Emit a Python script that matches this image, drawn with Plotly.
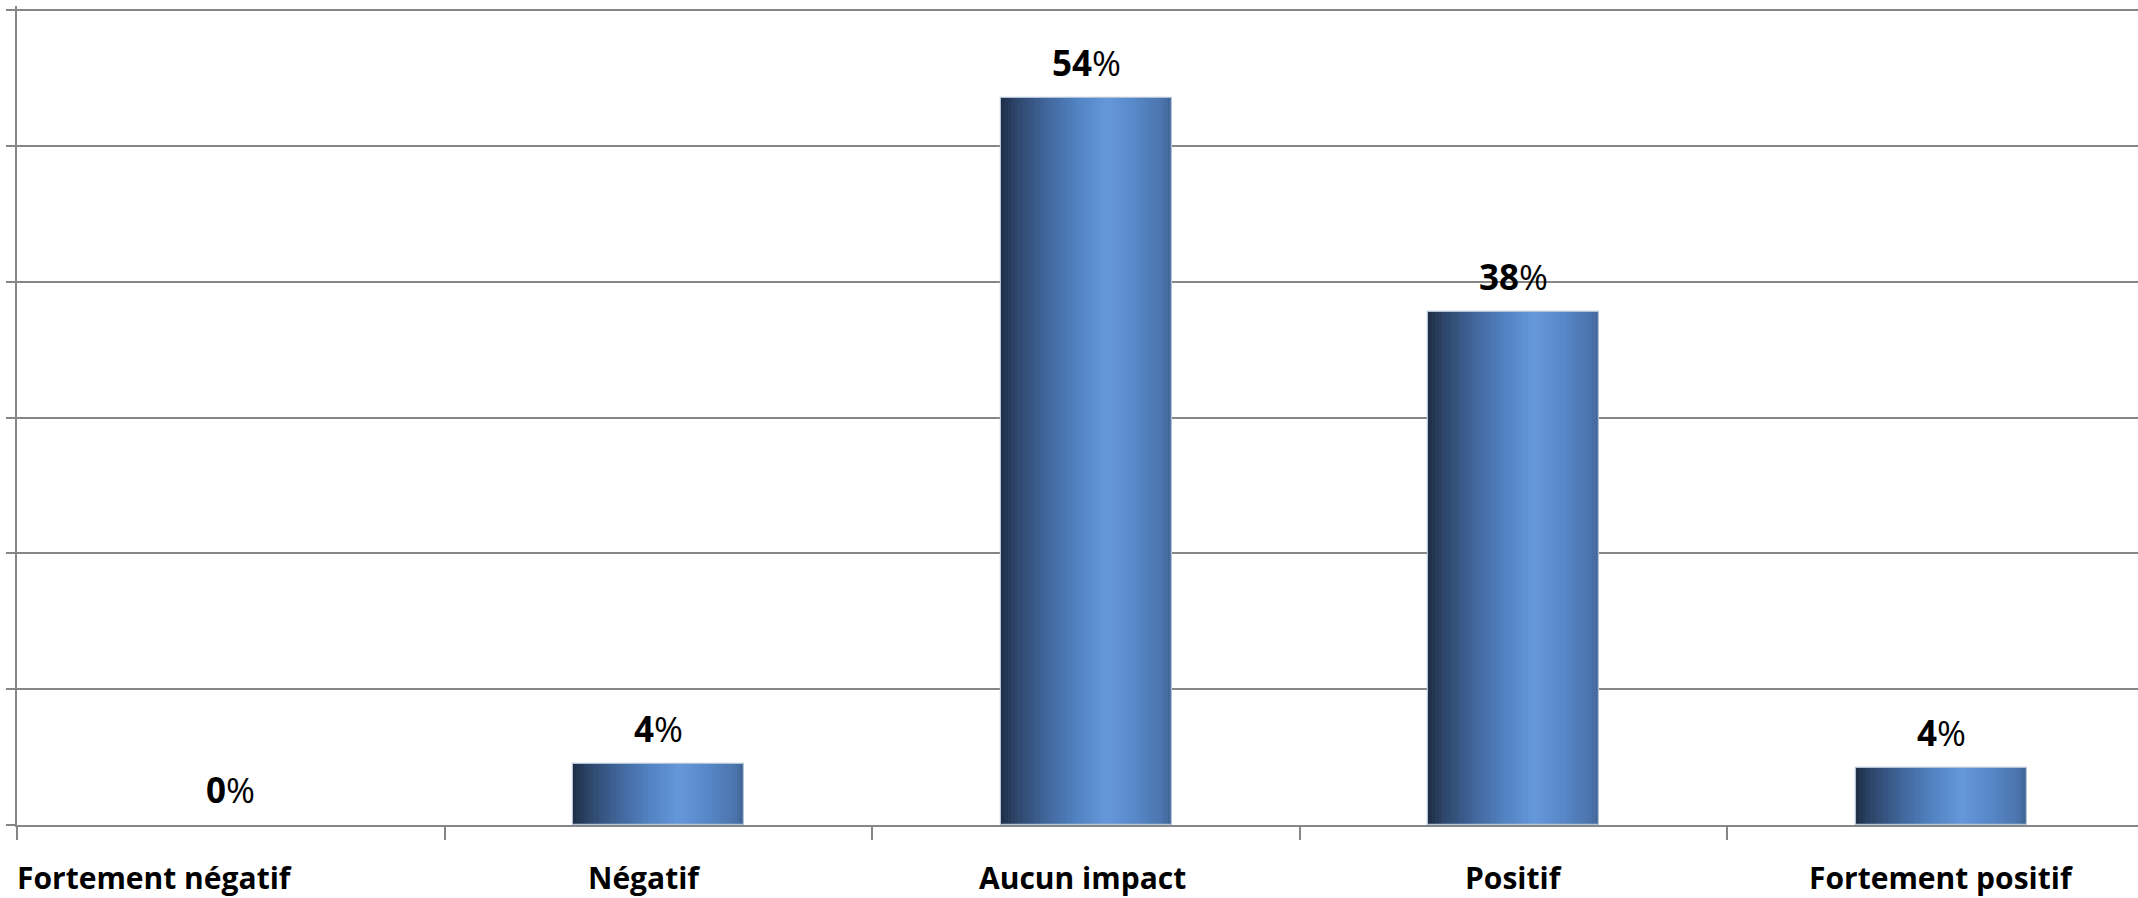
import plotly.graph_objects as go

# ---- data ----
categories = ["Fortement négatif", "Négatif", "Aucun impact", "Positif", "Fortement positif"]
values = [0, 4.5, 53.5, 37.8, 4.2]
value_labels = ["0", "4", "54", "38", "4"]

# ---- style ----
label_xshift = [-76, -14, -4, 0, 0]
grid_color = "#868686"
bar_width = 0.4
n_strips = 48
stops = [
    (0.00, (0x1e, 0x2d, 0x45)),
    (0.08, (0x2b, 0x43, 0x66)),
    (0.25, (0x3f, 0x63, 0x97)),
    (0.45, (0x52, 0x83, 0xc2)),
    (0.62, (0x65, 0x98, 0xda)),
    (0.80, (0x56, 0x86, 0xc6)),
    (0.95, (0x4a, 0x74, 0xab)),
    (1.00, (0x3f, 0x63, 0x93)),
]


def grad(t):
    for (t0, c0), (t1, c1) in zip(stops[:-1], stops[1:]):
        if t0 <= t <= t1:
            f = (t - t0) / (t1 - t0) if t1 > t0 else 0
            return "rgb(%d,%d,%d)" % tuple(round(a + (b - a) * f) for a, b in zip(c0, c1))
    return "rgb(%d,%d,%d)" % stops[-1][1]


fig = go.Figure()
sw = bar_width / n_strips
for k in range(n_strips):
    t = (k + 0.5) / n_strips
    fig.add_trace(go.Bar(
        x=categories, y=values,
        width=sw * 1.08, offset=-bar_width / 2 + k * sw,
        marker=dict(color=grad(t), line=dict(width=0)),
        hoverinfo="skip", showlegend=False,
    ))
# outline
fig.add_trace(go.Bar(
    x=categories, y=values, width=bar_width, offset=-bar_width / 2,
    marker=dict(color="rgba(0,0,0,0)",
                line=dict(color="#b4c4d8", width=[0 if v == 0 else 1.2 for v in values])),
    showlegend=False, hovertemplate="%{x}: %{y}<extra></extra>",
))

annotations = []
for c, v, lab in zip(categories, values, value_labels):
    annotations.append(dict(
        x=c, y=v, xref="x", yref="y", text="<b>%s</b>%%" % lab,
        showarrow=False, yanchor="bottom", yshift=10,
        font=dict(family="Open Sans", size=35, color="#000000"),
    ))
for c, xs in zip(categories, label_xshift):
    annotations.append(dict(
        x=c, y=0, xref="x", yref="paper", text="<b>%s</b>" % c,
        showarrow=False, yanchor="middle", yshift=-52, xshift=xs,
        font=dict(family="Open Sans", size=30, color="#000000"),
    ))

fig.update_layout(
    width=2138, height=898,
    margin=dict(l=17, r=0, t=6, b=73),
    paper_bgcolor="white", plot_bgcolor="white",
    barmode="overlay", bargap=0,
    showlegend=False,
    annotations=annotations,
    xaxis=dict(
        type="category", range=[-0.5, 4.46],
        showgrid=False, showticklabels=False,
        ticks="outside", ticklen=13, tickwidth=1.5, tickcolor=grid_color,
        tickson="boundaries",
        showline=True, linecolor=grid_color, linewidth=2,
        zeroline=False,
    ),
    yaxis=dict(
        range=[0, 60.294], dtick=10, tick0=0,
        showgrid=True, gridcolor=grid_color, gridwidth=2,
        showticklabels=False,
        ticks="outside", ticklen=9, tickwidth=2, tickcolor=grid_color,
        showline=True, linecolor=grid_color, linewidth=2,
        zeroline=False,
    ),
)

fig.write_html(
    "out.html",
    config={"displayModeBar": False},
    post_script="document.body.style.margin='0';document.body.style.overflow='hidden';",
)
